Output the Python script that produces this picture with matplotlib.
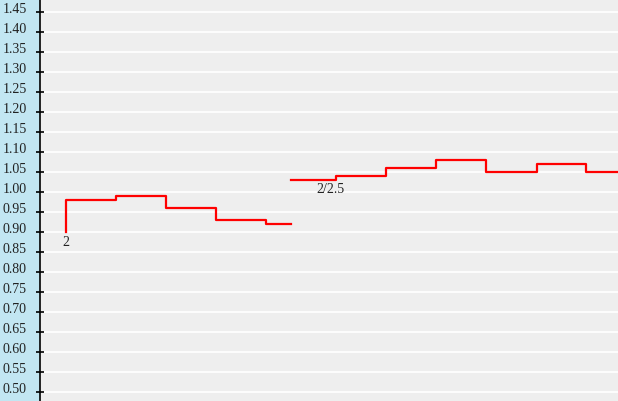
import matplotlib
matplotlib.use('Agg')
from matplotlib import pyplot as plt
from matplotlib import transforms as mtransforms
import numpy as np

# datos de las dos series escalonadas
x_serie1 = [0.52, 0.52, 1.52, 2.52, 3.52, 4.52, 5.02]
y_serie1 = [0.90, 0.98, 0.99, 0.96, 0.93, 0.92, 0.92]
x_serie2 = [5.02, 5.93, 6.93, 7.93, 8.93, 9.93, 10.93, 11.60]
y_serie2 = [1.03, 1.04, 1.06, 1.08, 1.05, 1.07, 1.05, 1.05]
etiquetas = ['2', '2/2.5']
yticks = np.round(np.arange(0.50, 1.451, 0.05), 2)

fig = plt.figure(figsize=(6.18, 4.02), dpi=100)
fig.patch.set_facecolor('#c2e6f2')
ax = fig.add_axes([40 / 618, 0, 578 / 618, 1])
ax.set_facecolor('#eeeeee')

ax.set_xlim(0, 578 / 50)
ax.set_ylim(1.45 - 389 / 400, 1.45 + 13 / 400)

for v in yticks:
    ax.axhline(v, color='white', lw=1.2, zorder=1)

ax.plot(x_serie1, y_serie1, drawstyle='steps-post', color='#ff0000', lw=1.6, zorder=3)
ax.plot(x_serie2, y_serie2, drawstyle='steps-post', color='#ff0000', lw=1.6, zorder=3)

ax.annotate(etiquetas[0], (x_serie1[0], y_serie1[0]), xytext=(0, -2), textcoords='offset points',
            ha='center', va='top', fontsize=10, family='Liberation Serif', color='#222222')
ax.annotate(etiquetas[1], (5.8, y_serie2[0]), xytext=(0, -1.5), textcoords='offset points',
            ha='center', va='top', fontsize=10, family='Liberation Serif', color='#222222')

ax.set_yticks(yticks)
ax.set_yticklabels(['%.2f' % v for v in yticks], family='Liberation Serif', fontsize=10, color='#222222')
ax.tick_params(axis='y', direction='inout', length=6, width=1.2, pad=6.5, colors='black', labelcolor='#222222')
ax.set_xticks([])
offset = mtransforms.ScaledTranslation(0, 3.5 / 72, fig.dpi_scale_trans)
for lab in ax.get_yticklabels():
    lab.set_transform(lab.get_transform() + offset)

for s in ['top', 'right', 'bottom']:
    ax.spines[s].set_visible(False)
ax.spines['left'].set_linewidth(1.2)

plt.savefig('out.png', dpi=100, facecolor=fig.get_facecolor())
